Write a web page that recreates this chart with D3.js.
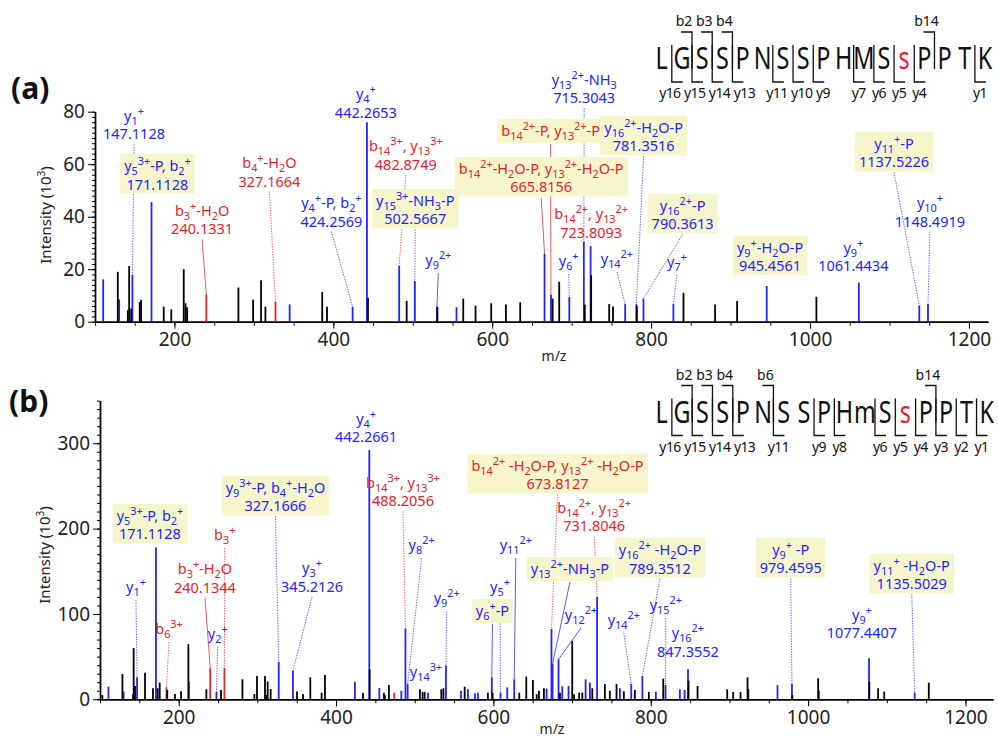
<!DOCTYPE html>
<html>
<head>
<meta charset="utf-8">
<script src="https://cdn.jsdelivr.net/npm/d3@7"></script>
<style>
  body { margin: 0; background: #fff; }
  svg { display: block; font-family: "Noto Sans", sans-serif; }
</style>
</head>
<body>
<script>
// ---------- panel (a) peaks [m/z, intensity 10^3] ----------
var blackA = [[128.7,19],[141.3,4.4],[143,21.2],[145.5,5],[156.3,7.5],[158,8.4],[186.5,5.7],[196,4.7],
  [211.7,20],[214,7],[216,5.5],[280.5,13],[299,8.4],[309,15.8],[314.5,5.7],[386,11.3],[392,5.7],
  [443.6,9.1],[492.3,7.9],[531,5.5],[563.5,8.8],[579,6.1],[598.7,7],[617.2,6.6],[635.2,7.4],[676,8.8],
  [684.3,15.2],[716.5,6.5],[724.5,17.7],[747.2,6.7],[752,5.8],[782,6],[840.7,11],[880.5,6.6],
  [908.2,7.9],[1008,9.5]];
var blueA = [[110.3,16.1],[130.4,8.5],[147.11,17.8],[171.11,45.5],[345,6.6],[424.26,5.7],[442.27,76],
  [482.87,21.3],[502.57,15.5],[530.4,5.8],[555,5.5],[665.82,25.8],[673.9,10.3],[697,9.5],[715.3,30.5],
  [723.81,28.8],[767.3,6.7],[781.35,6.7],[790.36,8.8],[828,6.7],[945.46,13.6],[1061.44,14.9],
  [1137.52,6.2],[1148.49,6.7]];
var redA = [[240.13,10.4],[327.17,7.6]];

// ---------- panel (b) peaks ----------
var blackB = [[103,5],[128.5,29.7],[142,6],[142.8,60],[144.5,15.6],[157.2,31.2],[167.3,12.9],[173.3,12.9],
  [175.9,19.5],[185.5,11],[195.3,6.2],[203,9.4],[212.3,64.5],[235.2,11.7],[253.8,10.9],[281,23.4],
  [296.2,6.2],[299.5,27.3],[309.7,27.3],[311.5,5],[313.1,20.7],[316.9,12.1],[350.4,9],[358,6.2],
  [367.3,25.8],[381.7,7.8],[385.9,28.5],[434.2,7.8],[442.7,35],[460.9,7.8],[462,5],[467.2,16.8],
  [506.6,11.7],[510,8.6],[512.6,8.6],[533.8,11.7],[536.5,13],[563.5,14.8],[593,7.8],[599,7.8],
  [632.9,7.8],[641.8,26.6],[650.2,22.7],[655,6],[657.9,10],[664.2,12.9],[684.6,7.8],[700.2,68.4],
  [702.5,6],[709,7.8],[713,7.8],[725.7,12.9],[741.7,18],[748,10],[756.5,18],[765.8,9.4],[779.8,10.9],
  [797.6,8.6],[815.9,24.2],[848,21.9],[859.5,15.6],[897.2,11.7],[904.8,8.6],[914.1,8.6],[923,25.8],
  [924,12],[980,5],[1012.8,24.6],[1013.5,10],[1077.8,20.7],[1089,12.9],[1096.7,9],[1153.4,19.5]];
var blueB = [[110.7,14.8],[130,9],[147.11,25.8],[171.11,178],[213,21],[248,8.6],[327.17,44],[345.21,33.6],
  [424,20.7],[442.27,292],[455,13.3],[483,10],[488.21,83.2],[491,18],[516.8,7.8],[539.7,39.5],
  [558.8,10],[567.6,11.7],[576.5,7],[580.3,7.8],[598,25.8],[609,7.8],[617.6,14],[626.5,23.4],
  [667.6,12.5],[673.81,82.4],[675.2,41.4],[682.8,46.9],[687.5,15.2],[695.5,15.6],[717.2,23.4],
  [722.7,19.5],[731.8,120.3],[760.8,12.9],[775.2,18],[789.35,27.3],[806.5,9],[818.8,16.8],[837,11.7],
  [843,10.9],[847.36,35.2],[961.1,16.8],[979.46,18],[1077.44,48],[1135.5,7.8]];
var redB = [[184.5,14],[240.13,36.3],[258.14,36.7],[474,7.8]];

// ---------- annotations: text lines, colour, anchor [m/z, intensity], target peak ----------
var labelsA = [
  {t:["y_{1}^{+}","147.1128"], c:"b", at:[149.1,76.5], to:147.11, dot:1},
  {t:["y_{5}^{3+}-P, b_{2}^{+}","171.1128"], c:"b", at:[178.6,57.4], box:1},
  {t:["b_{3}^{+}-H_{2}O","240.1331"], c:"r", at:[234.8,40.3], to:240.13},
  {t:["b_{4}^{+}-H_{2}O","327.1664"], c:"r", at:[319.5,58.5], to:327.17, dot:1},
  {t:["y_{4}^{+}-P, b_{2}^{+}","424.2569"], c:"b", at:[397.5,43.3], to:424.26, dot:1},
  {t:["y_{4}^{+}","442.2653"], c:"b", at:[440.9,84.8]},
  {t:["b_{14}^{3+}, y_{13}^{3+}","482.8749"], c:"r", at:[491.2,65.0], to:482.87, dot:1},
  {t:["y_{15}^{3+}-NH_{3}-P","502.5667"], c:"b", at:[503.1,44.1], box:1, to:502.57, dot:1},
  {t:["y_{9}^{2+}"], c:"b", at:[532.1,21.6], to:530.4},
  {t:["b_{14}^{2+}-P, y_{13}^{2+}-P"], c:"r", at:[673.5,70.8], box:1, to:673.9},
  {t:["y_{13}^{2+}-NH_{3}","715.3043"], c:"b", at:[715.7,90.2], to:715.3, dot:1},
  {t:["b_{14}^{2+}-H_{2}O-P, y_{13}^{2+}-H_{2}O-P","665.8156"], c:"r", at:[661.6,56.3], box:1, to:665.82},
  {t:["b_{14}^{2+}, y_{13}^{2+}","723.8093"], c:"r", at:[724.5,39.1]},
  {t:["y_{16}^{2+}-H_{2}O-P","781.3516"], c:"b", at:[790.6,71.9], box:1, to:781.35, dot:1},
  {t:["y_{16}^{2+}-P","790.3613"], c:"b", at:[839.6,42.2], box:1, to:790.36, dot:1},
  {t:["y_{14}^{2+}"], c:"b", at:[756.9,22], to:767.3, dot:1},
  {t:["y_{6}^{+}"], c:"b", at:[696.2,21.2], to:697, dot:1},
  {t:["y_{7}^{+}"], c:"b", at:[832.3,20.8], to:828, dot:1},
  {t:["y_{9}^{+}-H_{2}O-P","945.4561"], c:"b", at:[949.7,26.2], box:1},
  {t:["y_{9}^{+}","1061.4434"], c:"b", at:[1054.5,26.2]},
  {t:["y_{11}^{+}-P","1137.5226"], c:"b", at:[1105.7,65.8], box:1, to:1137.52, dot:1},
  {t:["y_{10}^{+}","1148.4919"], c:"b", at:[1150.9,43.3], to:1148.49, dot:1}
];
var labelsB = [
  {t:["y_{5}^{3+}-P, b_{2}^{+}","171.1128"], c:"b", at:[163.5,209], box:1},
  {t:["y_{1}^{+}"], c:"b", at:[145.7,125.8], to:147.11, dot:1},
  {t:["b_{6}^{3+}"], c:"r", at:[187.7,76.5], to:184.5, dot:1},
  {t:["b_{3}^{+}-H_{2}O","240.1344"], c:"r", at:[233.4,146.8], to:240.13},
  {t:["b_{3}^{+}"], c:"r", at:[258.5,186.7], to:258.14, dot:1},
  {t:["y_{2}^{+}"], c:"b", at:[249.6,70.7], to:248, dot:1},
  {t:["y_{9}^{3+}-P, b_{4}^{+}-H_{2}O","327.1666"], c:"b", at:[323,242], box:1, to:327.17, dot:1},
  {t:["y_{3}^{+}","345.2126"], c:"b", at:[369.5,147.5], to:345.21, dot:1},
  {t:["y_{4}^{+}","442.2661"], c:"b", at:[438.2,322.8]},
  {t:["b_{14}^{3+}, y_{13}^{3+}","488.2056"], c:"r", at:[485.1,247.7], to:488.21, dot:1},
  {t:["y_{8}^{2+}"], c:"b", at:[508.8,174.9], to:491, dot:1},
  {t:["y_{14}^{3+}"], c:"b", at:[514.3,26.1]},
  {t:["y_{9}^{2+}"], c:"b", at:[540.6,112.3], to:539.7, dot:1},
  {t:["y_{6}^{+}-P"], c:"b", at:[598.8,97.6], box:1, to:598},
  {t:["y_{5}^{+}"], c:"b", at:[608.4,125.8], to:609, dot:1},
  {t:["y_{11}^{2+}"], c:"b", at:[628.5,175], to:626.5},
  {t:["b_{14}^{2+} -H_{2}O-P, y_{13}^{2+} -H_{2}O-P","673.8127"], c:"r", at:[681.5,267.6], box:1, to:673.81, dot:1},
  {t:["b_{14}^{2+}, y_{13}^{2+}","731.8046"], c:"r", at:[728.1,218.3], to:731.8, dot:1},
  {t:["y_{13}^{2+}-NH_{3}-P"], c:"b", at:[697.3,146.8], box:1, to:675.2},
  {t:["y_{12}^{2+}"], c:"b", at:[711.3,92.9], to:682.8},
  {t:["y_{14}^{2+}"], c:"b", at:[765.8,87.1], to:775.2, dot:1},
  {t:["y_{16}^{2+} -H_{2}O-P","789.3512"], c:"b", at:[811.7,169], box:1, to:789.35, dot:1},
  {t:["y_{15}^{2+}"], c:"b", at:[819.1,104.6], to:818.8, dot:1},
  {t:["y_{16}^{2+}","847.3552"], c:"b", at:[847.2,71.7]},
  {t:["y_{9}^{+} -P","979.4595"], c:"b", at:[977.9,169.1], box:1, to:979.46, dot:1},
  {t:["y_{9}^{+}","1077.4407"], c:"b", at:[1068.4,93]},
  {t:["y_{11}^{+} -H_{2}O-P","1135.5029"], c:"b", at:[1131.7,150.4], box:1, to:1135.5, dot:1}
];

// ---------- peptide sequences and observed fragment ions ----------
var seqA = ["L","G","S","S","P","N","S","S","P","H","M","S","s","P","P","T","K"];
var seqB = ["L","G","S","S","P","N","S","S","P","H","m","S","s","P","P","T","K"];
var phosphoSite = 12;
var bIonsA = [2,3,4,14];
var yIonsA = [16,15,14,13,11,10,9,7,6,5,4,1];
var bIonsB = [2,3,4,6,14];
var yIonsB = [16,15,14,13,11,9,8,6,5,4,3,2,1];

// ---------- axes ----------
var xMajor = [200,400,600,800,1000,1200];
var xMinor = d3.range(100, 1226, 50);
var yMajorA = [0,20,40,60,80], yMinorA = d3.range(0, 81, 2);
var yMajorB = [0,100,200,300], yMinorB = d3.range(0, 351, 10);

var BLUE = "#2323ff", RED = "#e8222a", BOX = "#f6f5cc";

var svg = d3.select("body").append("svg").attr("width", 998).attr("height", 736);

function rich(text, str) {
  var re = /([_^])\{([^}]*)\}|([^_^]+)/g, m, shift = 0;
  while ((m = re.exec(str))) {
    var target = m[1] === "_" ? 4 : m[1] === "^" ? -6 : 0;
    var ts = text.append("tspan").text(m[1] ? m[2] : m[3]);
    if (target - shift) ts.attr("dy", target - shift);
    if (m[1]) ts.attr("font-size", "0.75em");
    shift = target;
  }
}

// spread labels in a row so neighbours do not overlap, keeping each group centred
function spread(items, pad) {
  var groups = items.map(function (d) { return [d]; });
  function layout(gr) {
    var w = d3.sum(gr, function (d) { return d.w; }) + pad * (gr.length - 1);
    var c = d3.mean(gr, function (d) { return d.x; });
    var s = c - w / 2;
    gr.forEach(function (d) { d.px = s + d.w / 2; s += d.w + pad; });
    return [c - w / 2, c + w / 2];
  }
  var changed = true;
  while (changed) {
    changed = false;
    for (var i = 0; i < groups.length - 1; i++) {
      var a = layout(groups[i]), b = layout(groups[i + 1]);
      if (a[1] + pad > b[0]) {
        groups.splice(i, 2, groups[i].concat(groups[i + 1]));
        changed = true;
        break;
      }
    }
  }
  groups.forEach(layout);
}

function drawPanel(p) {
  var g = svg.append("g");
  var x = p.x, y = p.y;
  var y0 = y(0), x0 = x.range()[0];

  // x axis
  g.append("g").attr("transform", "translate(0," + y0 + ")")
    .call(d3.axisBottom(x).tickValues(xMinor).tickSize(4).tickSizeOuter(0).tickFormat(""));
  g.append("g").attr("transform", "translate(0," + y0 + ")")
    .call(d3.axisBottom(x).tickValues(xMajor).tickSize(7).tickSizeOuter(0).tickPadding(4).tickFormat(d3.format("d")));
  // y axis
  g.append("g").attr("transform", "translate(" + x0 + ",0)")
    .call(d3.axisLeft(y).tickValues(p.yMinor).tickSize(3).tickSizeOuter(0).tickFormat(""));
  g.append("g").attr("transform", "translate(" + x0 + ",0)")
    .call(d3.axisLeft(y).tickValues(p.yMajor).tickSize(7).tickSizeOuter(0).tickPadding(3).tickFormat(d3.format("d")));
  g.selectAll(".domain").attr("stroke", "#000").attr("stroke-width", 1.4);
  g.selectAll(".tick line").attr("stroke", "#000").attr("stroke-width", 1);
  g.selectAll(".tick text").attr("font-family", "Noto Sans").attr("font-size", 19).attr("fill", "#222");

  // axis titles
  g.append("text").attr("x", p.mzX).attr("y", p.mzY).attr("text-anchor", "middle")
    .attr("font-size", 14).attr("fill", "#222").text("m/z");
  var it = g.append("text").attr("transform", "translate(" + p.intX + "," + p.intY + ") rotate(-90)")
    .attr("text-anchor", "middle").attr("font-size", 15).attr("fill", "#222");
  it.append("tspan").text("Intensity (10");
  it.append("tspan").text("3").attr("font-size", 10).attr("dy", -6);
  it.append("tspan").text(")").attr("dy", 6);
  g.append("text").attr("x", p.tagX).attr("y", p.tagY).attr("font-size", 30).attr("font-weight", "bold")
    .attr("fill", "#111").text(p.tag);

  // peaks
  var series = [[p.blue, BLUE], [p.red, RED], [p.black, "#000"]];
  series.forEach(function (s) {
    g.append("g").selectAll("line").data(s[0]).enter().append("line")
      .attr("x1", function (d) { return x(d[0]); }).attr("x2", function (d) { return x(d[0]); })
      .attr("y1", y0).attr("y2", function (d) { return y(d[1]); })
      .attr("stroke", s[1]).attr("stroke-width", 1.8);
  });
  var all = p.blue.concat(p.red, p.black);
  function peakAt(mz) {
    return all.reduce(function (a, b) { return Math.abs(b[0] - mz) < Math.abs(a[0] - mz) ? b : a; });
  }

  // annotations
  var lg = g.append("g"), bg = g.append("g"), tg = g.append("g");
  p.labels.forEach(function (L) {
    var col = L.c === "r" ? RED : BLUE;
    var cx = x(L.at[0]), by = y(L.at[1]);
    var grp = tg.append("g");
    L.t.forEach(function (line, i) {
      var t = grp.append("text").attr("x", cx).attr("y", by + i * 18.5)
        .attr("text-anchor", "middle").attr("font-size", 14.5).attr("fill", col);
      rich(t, line);
    });
    var bb = grp.node().getBBox();
    var bottom = bb.y + bb.height;
    if (L.box) {
      bg.append("rect").attr("x", bb.x - 4).attr("y", bb.y + 1).attr("width", bb.width + 8)
        .attr("height", bb.height - 1).attr("fill", BOX);
    }
    if (L.to != null) {
      var pk = peakAt(L.to);
      lg.append("line").attr("x1", cx).attr("y1", bottom + 1)
        .attr("x2", x(pk[0])).attr("y2", y(pk[1]))
        .attr("stroke", col).attr("stroke-width", 1).attr("stroke-opacity", 0.75)
        .attr("stroke-dasharray", L.dot ? "1.3,1.3" : null);
    }
  });

  // sequence with fragment brackets
  var sg = g.append("g");
  var pos = d3.scalePoint().domain(d3.range(p.seq.length)).range(p.seqRange);
  sg.selectAll("text.res").data(p.seq).enter().append("text").attr("class", "res")
    .attr("transform", function (d, i) { return "translate(" + pos(i) + "," + p.seqY + ") scale(0.78,1)"; })
    .attr("text-anchor", "middle").attr("font-size", 30)
    .attr("fill", function (d, i) { return i === phosphoSite ? RED : "#111"; })
    .text(function (d) { return d; });
  var n = p.seq.length, top = p.seqY - 37, bot = p.seqY + 13;
  p.bIons.forEach(function (k) {
    var bx = (pos(k - 1) + pos(k)) / 2;
    sg.append("path").attr("d", "M" + (bx - 11) + "," + top + "H" + bx + "V" + (top + 37))
      .attr("fill", "none").attr("stroke", "#111").attr("stroke-width", 1.3);
    sg.append("text").attr("x", bx - 8).attr("y", top - 6).attr("text-anchor", "middle")
      .attr("font-size", 14).attr("fill", "#111").text("b" + k);
  });
  var yl = p.yIons.map(function (k) {
    var bx = (pos(n - k - 1) + pos(n - k)) / 2;
    sg.append("path").attr("d", "M" + bx + "," + (bot - 37) + "V" + bot + "H" + (bx + 11))
      .attr("fill", "none").attr("stroke", "#111").attr("stroke-width", 1.3);
    var t = sg.append("text").attr("y", bot + 16).attr("text-anchor", "middle")
      .attr("font-size", 14).attr("letter-spacing", -0.6).attr("fill", "#111").text("y" + k);
    return { t: t, x: bx + 5, w: t.node().getComputedTextLength() };
  }).sort(function (a, b) { return a.x - b.x; });
  spread(yl, 3.5);
  yl.forEach(function (d) { d.t.attr("x", d.px); });
}

drawPanel({
  x: d3.scaleLinear().domain([100, 1224]).range([95, 988]),
  y: d3.scaleLinear().domain([0, 80]).range([321.7, 111.7]),
  yMajor: yMajorA, yMinor: yMinorA,
  black: blackA, blue: blueA, red: redA, labels: labelsA,
  seq: seqA, bIons: bIonsA, yIons: yIonsA, seqRange: [661.7, 985], seqY: 69,
  mzX: 554, mzY: 361, intX: 51, intY: 215, tag: "(a)", tagX: 11, tagY: 99
});
drawPanel({
  x: d3.scaleLinear().domain([100, 1235]).range([100, 993]),
  y: d3.scaleLinear().domain([0, 350]).range([699.3, 400.6]),
  yMajor: yMajorB, yMinor: yMinorB,
  black: blackB, blue: blueB, red: redB, labels: labelsB,
  seq: seqB, bIons: bIonsB, yIons: yIonsB, seqRange: [661.7, 986.7], seqY: 422.5,
  mzX: 552, mzY: 734, intX: 50, intY: 555, tag: "(b)", tagX: 9, tagY: 412
});
</script>
</body>
</html>
